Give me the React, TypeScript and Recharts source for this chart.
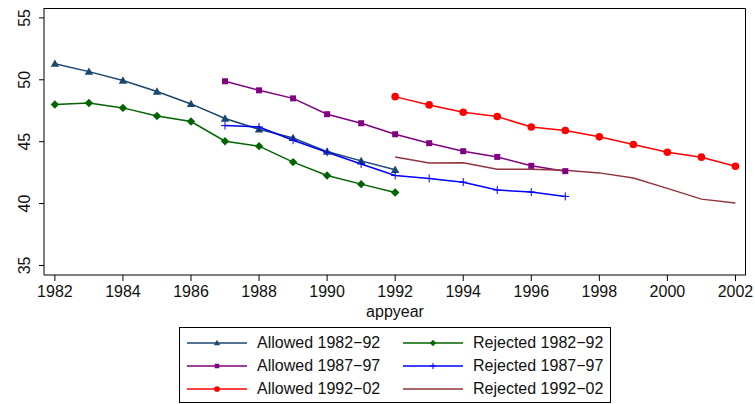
import { LineChart, Line, XAxis, YAxis } from 'recharts';

const years = [1982, 1983, 1984, 1985, 1986, 1987, 1988, 1989, 1990, 1991, 1992, 1993, 1994, 1995, 1996, 1997, 1998, 1999, 2000, 2001, 2002];
const xTicks = [1982, 1984, 1986, 1988, 1990, 1992, 1994, 1996, 1998, 2000, 2002];
const yTicks = [35, 40, 45, 50, 55];
const xDomain = [1981.68, 2002.31];
const yDomain = [34.23, 55.8];

// each cohort covers 11 years starting at its first year
const allowed8292 = [51.3, 50.66, 49.94, 49.05, 48.05, 46.87, 46.0, 45.3, 44.2, 43.45, 42.73];
const rejected8292 = [48.0, 48.13, 47.73, 47.08, 46.63, 45.04, 44.64, 43.35, 42.27, 41.57, 40.9];
const allowed8797 = [49.88, 49.15, 48.5, 47.22, 46.49, 45.6, 44.88, 44.23, 43.77, 43.05, 42.62];
const rejected8797 = [46.3, 46.19, 45.12, 44.15, 43.2, 42.27, 42.03, 41.73, 41.09, 40.93, 40.58];
const allowed9202 = [48.64, 47.97, 47.38, 47.03, 46.19, 45.9, 45.39, 44.77, 44.15, 43.75, 43.02];
const rejected9202 = [43.77, 43.27, 43.29, 42.78, 42.78, 42.7, 42.48, 42.06, 41.23, 40.36, 40.04];

type Shape = 'triangle' | 'diamond' | 'square' | 'plus' | 'circle' | 'none';

const series = [
  { key: 'a8292', name: 'Allowed 1982\u221292', start: 1982, values: allowed8292, color: '#1a476f', shape: 'triangle' as Shape },
  { key: 'a8797', name: 'Allowed 1987\u221297', start: 1987, values: allowed8797, color: '#800080', shape: 'square' as Shape },
  { key: 'a9202', name: 'Allowed 1992\u221202', start: 1992, values: allowed9202, color: '#ff0000', shape: 'circle' as Shape },
  { key: 'r8292', name: 'Rejected 1982\u221292', start: 1982, values: rejected8292, color: '#006400', shape: 'diamond' as Shape },
  { key: 'r8797', name: 'Rejected 1987\u221297', start: 1987, values: rejected8797, color: '#0000ff', shape: 'plus' as Shape },
  { key: 'r9202', name: 'Rejected 1992\u221202', start: 1992, values: rejected9202, color: '#90353b', shape: 'none' as Shape },
];

const data = years.map((year) => {
  const row: Record<string, number | null> = { year };
  series.forEach((s) => {
    const i = year - s.start;
    row[s.key] = i >= 0 && i < s.values.length ? s.values[i] : null;
  });
  return row;
});

const FONT = '"Liberation Sans", Arial, Helvetica, sans-serif';

const Marker = ({ cx, cy, shape, color, small }: { cx: number; cy: number; shape: Shape; color: string; small?: boolean }) => {
  const k = small ? 0.75 : 1;
  if (shape === 'triangle') {
    const s = 4.2 * k;
    return <polygon points={`${cx},${cy - s} ${cx - s},${cy + s * 0.75} ${cx + s},${cy + s * 0.75}`} fill={color} />;
  }
  if (shape === 'diamond') {
    const s = 4.2 * k;
    return <polygon points={`${cx},${cy - s} ${cx + s},${cy} ${cx},${cy + s} ${cx - s},${cy}`} fill={color} />;
  }
  if (shape === 'square') {
    const s = 3 * k;
    return <rect x={cx - s} y={cy - s} width={s * 2} height={s * 2} fill={color} />;
  }
  if (shape === 'circle') {
    return <circle cx={cx} cy={cy} r={3.8 * k} fill={color} />;
  }
  if (shape === 'plus') {
    const s = 4 * k;
    return (
      <g stroke={color} strokeWidth={1}>
        <line x1={cx - s} y1={cy} x2={cx + s} y2={cy} />
        <line x1={cx} y1={cy - s} x2={cx} y2={cy + s} />
      </g>
    );
  }
  return null;
};

const makeDot = (shape: Shape, color: string) => (props: any) => {
  const { cx, cy, key, index } = props;
  if (cx == null || cy == null || props.value == null) return <g key={key ?? index} />;
  return (
    <g key={key ?? index}>
      <Marker cx={cx} cy={cy} shape={shape} color={color} />
    </g>
  );
};

const YTick = (props: any) => {
  const { x, y, payload } = props;
  return (
    <text
      x={x}
      y={y}
      transform={`rotate(-90, ${x}, ${y})`}
      textAnchor="middle"
      fontSize={16}
      fontFamily={FONT}
      fill="#111"
    >
      {payload.value}
    </text>
  );
};

const XTitle = (props: any) => {
  const vb = props.viewBox || {};
  return (
    <text x={vb.x + vb.width / 2} y={vb.y + 42} textAnchor="middle" fontSize={16} fontFamily={FONT} fill="#111">
      appyear
    </text>
  );
};

const LegendBox = () => {
  const rows = [0, 1, 2];
  const cols = [series.slice(0, 3), series.slice(3, 6)];
  return (
    <div
      style={{
        position: 'absolute',
        left: 179,
        top: 327,
        width: 432,
        height: 76,
        border: '1px solid #000',
        boxSizing: 'border-box',
        fontFamily: FONT,
        fontSize: 16,
        color: '#111',
      }}
    >
      {cols.map((col, ci) =>
        rows.map((ri) => {
          const s = col[ri];
          const left = ci === 0 ? 7 : 223;
          const top = 4 + ri * 23;
          return (
            <div key={s.key} style={{ position: 'absolute', left, top, height: 22, display: 'flex', alignItems: 'center', whiteSpace: 'nowrap' }}>
              <svg width={60} height={22} style={{ display: 'block' }}>
                <line x1={0} y1={11} x2={60} y2={11} stroke={s.color} strokeWidth={1.5} />
                <Marker cx={30} cy={11} shape={s.shape} color={s.color} small />
              </svg>
              <span style={{ marginLeft: 10 }}>{s.name}</span>
            </div>
          );
        })
      )}
    </div>
  );
};

export default function App() {
  return (
    <div style={{ position: 'absolute', left: 0, top: 0, width: 755, height: 404, background: '#fff' }}>
      <LineChart
        width={755}
        height={404}
        data={data}
        margin={{ top: 8, right: 9, bottom: 92, left: 4 }}
      >
        <XAxis
          dataKey="year"
          type="number"
          domain={xDomain}
          ticks={xTicks}
          allowDataOverflow
          height={37}
          tickSize={6}
          tickMargin={5}
          stroke="#000"
          tick={{ fill: '#111', fontSize: 16, fontFamily: FONT }}
          label={<XTitle />}
        />
        <YAxis
          type="number"
          domain={yDomain}
          ticks={yTicks}
          allowDataOverflow
          width={40}
          tickSize={5}
          tickMargin={9}
          stroke="#000"
          tick={<YTick />}
        />
        {series.map((s) => (
          <Line
            key={s.key}
            type="linear"
            dataKey={s.key}
            name={s.name}
            stroke={s.color}
            strokeWidth={1.5}
            dot={s.shape === 'none' ? false : makeDot(s.shape, s.color)}
            activeDot={false}
            connectNulls={false}
            isAnimationActive={false}
          />
        ))}
      </LineChart>
      {/* plot-region frame drawn as an overlay */}
      <svg
        width={755}
        height={404}
        style={{ position: 'absolute', left: 0, top: 0, pointerEvents: 'none' }}
      >
        <polyline points="44,8.5 745.5,8.5 745.5,275" fill="none" stroke="#000" strokeWidth={1} />
      </svg>
      <LegendBox />
    </div>
  );
}
